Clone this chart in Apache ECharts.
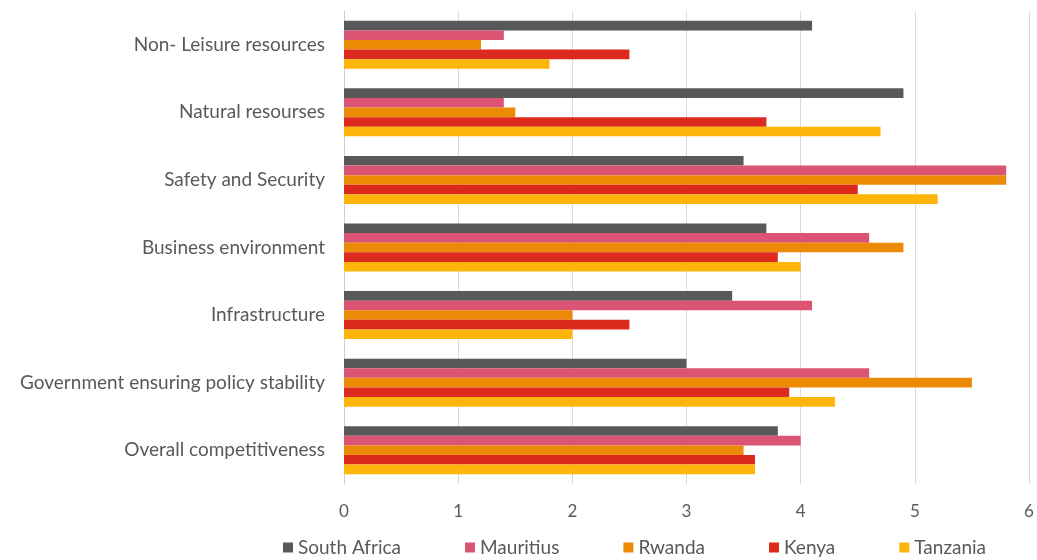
<!DOCTYPE html>
<html><head><meta charset="utf-8">
<script src="https://cdn.jsdelivr.net/npm/echarts@6/dist/echarts.min.js"></script>
<style>html,body{margin:0;padding:0;background:#fff}#c{width:1037px;height:560px}</style>
</head><body><div id="c"></div>
<script>
const categories = ["Non- Leisure resources","Natural resourses","Safety and Security","Business environment","Infrastructure","Government ensuring policy stability","Overall competitiveness"];
const seriesNames = ["South Africa","Mauritius","Rwanda","Kenya","Tanzania"];
const southAfrica = [4.1, 4.9, 3.5, 3.7, 3.4, 3.0, 3.8];
const mauritius   = [1.4, 1.4, 5.8, 4.6, 4.1, 4.6, 4.0];
const rwanda      = [1.2, 1.5, 5.8, 4.9, 2.0, 5.5, 3.5];
const kenya       = [2.5, 3.7, 4.5, 3.8, 2.5, 3.9, 3.6];
const tanzania    = [1.8, 4.7, 5.2, 4.0, 2.0, 4.3, 3.6];
const colors = ["#595959","#dc5474","#ec8a06","#dc2b1e","#fdb50a"];
const values = [southAfrica, mauritius, rwanda, kenya, tanzania];
const FONT = "Lato";

const chart = echarts.init(document.getElementById('c'));
chart.setOption({
  animation: false,
  color: colors,
  textStyle: {fontFamily: FONT},
  grid: {left: 344, right: 8, top: 11, bottom: 76, containLabel: false},
  legend: {
    top: 533, left: 278, itemGap: 64, itemWidth: 10, itemHeight: 10,
    icon: 'rect',
    textStyle: {color: '#595959', fontSize: 19, fontFamily: FONT},
    data: seriesNames
  },
  xAxis: {
    type: 'value', min: 0, max: 6, interval: 1,
    axisLine: {show: false},
    axisTick: {show: false},
    splitLine: {lineStyle: {color: '#d9d9d9'}},
    axisLabel: {color: '#595959', fontSize: 17, margin: 19}
  },
  yAxis: {
    type: 'category', data: categories, inverse: true,
    axisLine: {show: true, lineStyle: {color: '#d0d0d0'}},
    axisTick: {show: false},
    axisLabel: {color: '#595959', fontSize: 19, margin: 19}
  },
  series: seriesNames.map((n, i) => ({
    name: n, type: 'bar', data: values[i],
    barGap: '0%', barCategoryGap: '29%'
  }))
});
</script></body></html>
